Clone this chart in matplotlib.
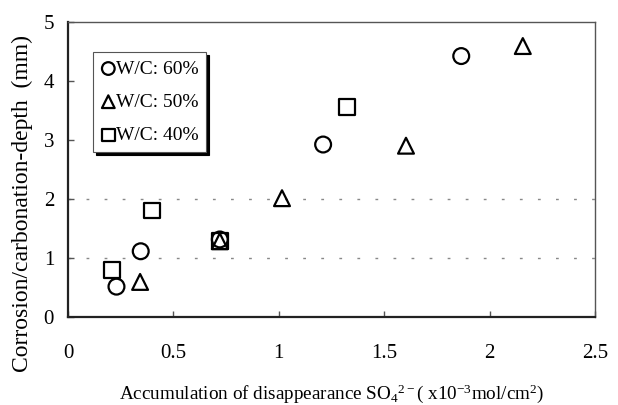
import matplotlib
matplotlib.use("Agg")
import matplotlib.pyplot as plt

plt.rcParams['font.family'] = ['Liberation Serif', 'DejaVu Serif']
plt.rcParams['mathtext.fontset'] = 'custom'
plt.rcParams['mathtext.rm'] = 'Liberation Serif'
plt.rcParams['mathtext.it'] = 'Liberation Serif:italic'

# Data
wc60_x = [0.23, 0.345, 0.72, 1.21, 1.865]
wc60_y = [0.51, 1.11, 1.31, 2.92, 4.42]
wc50_x = [0.342, 0.72, 1.015, 1.603, 2.157]
wc50_y = [0.59, 1.28, 2.01, 2.90, 4.59]
wc40_x = [0.207, 0.397, 0.72, 1.322]
wc40_y = [0.79, 1.80, 1.29, 3.55]
series_labels = ['W/C: 60%', 'W/C: 50%', 'W/C: 40%']
x_ticks = [0, 0.5, 1, 1.5, 2, 2.5]
x_ticklabels = ['0', '0.5', '1', '1.5', '2', '2.5']
y_ticks = [0, 1, 2, 3, 4, 5]
grid_levels = [1, 2]

fig = plt.figure(figsize=(6.18, 4.05), dpi=100)
ax = fig.add_axes([0.110, 0.218, 0.853, 0.728])

for lv in grid_levels:
    ax.axhline(lv, color='#888888', linestyle=(0, (2, 11)), linewidth=1.0, zorder=0)

mk = dict(facecolor='none', edgecolor='black', linewidths=1.6, s=130, zorder=3)
ax.scatter(wc40_x, wc40_y, marker='s', label=series_labels[2], **mk)
ax.scatter(wc50_x, wc50_y, marker='^', label=series_labels[1], **mk)
ax.scatter(wc60_x, wc60_y, marker='o', label=series_labels[0], **mk)

ax.set_xlim(0, 2.5)
ax.set_ylim(0, 5)
ax.set_xticks(x_ticks)
ax.set_xticklabels(x_ticklabels)
ax.set_yticks(y_ticks)
ax.tick_params(direction='in', length=4, width=1, labelsize=15, color='#555555')
ax.tick_params(axis='x', pad=20)
ax.tick_params(axis='y', pad=10)

for s in ['left', 'bottom']:
    ax.spines[s].set_linewidth(1.6)
    ax.spines[s].set_color('#222222')
for s in ['top', 'right']:
    ax.spines[s].set_linewidth(1.0)
    ax.spines[s].set_color('#555555')

ax.set_xlabel(r'Accumulation of disappearance SO$_4$$^{2-}$( x10$^{-3}$mol/cm$^2$)',
              fontsize=13.8, labelpad=14)
ax.set_ylabel('Corrosion/carbonation-depth  (mm)', fontsize=17)
ax.yaxis.set_label_coords(-0.066, 0.385)

# Legend order: 60, 50, 40
h, l = ax.get_legend_handles_labels()
order = [2, 1, 0]
leg = ax.legend([h[i] for i in order], [l[i] for i in order], loc='upper left',
                bbox_to_anchor=(0.047, 0.897), fontsize=14, frameon=True, fancybox=False,
                shadow={'color': 'black', 'alpha': 1}, borderpad=0.4, handletextpad=0.0,
                handlelength=0.8, labelspacing=0.8, borderaxespad=0, markerscale=0.8)
leg.get_frame().set_edgecolor('#555555')
leg.get_frame().set_linewidth(0.8)

fig.savefig('out.png', dpi=100)
